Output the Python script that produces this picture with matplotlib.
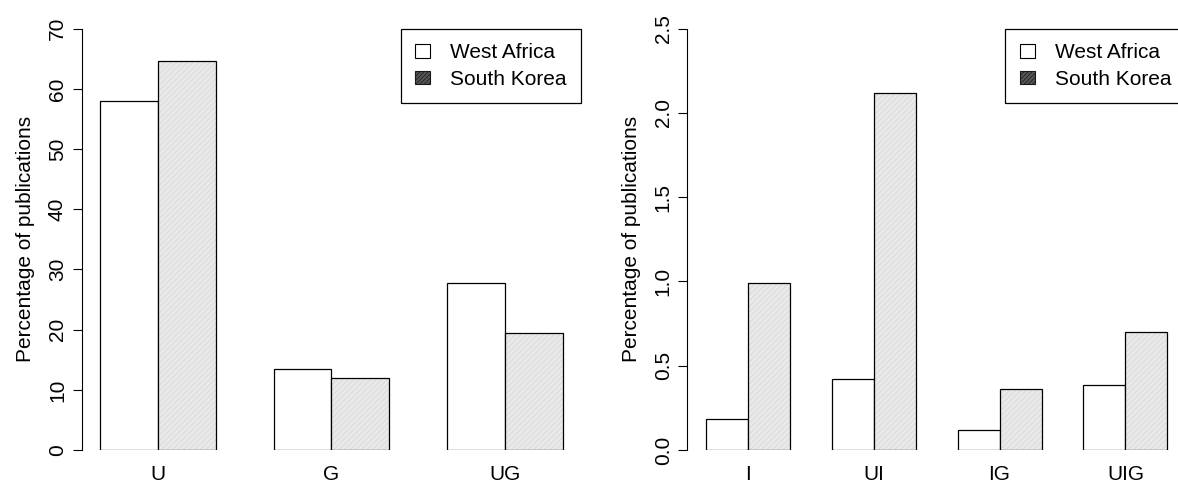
"""
Share of publications by collaboration type, West Africa vs South Korea (two barplot panels).
"""
import numpy as np
import matplotlib

matplotlib.use("Agg")
import matplotlib.pyplot as plt
from matplotlib.patches import Patch

plt.rcParams["font.family"] = ["Liberation Sans", "DejaVu Sans"]
plt.rcParams["font.size"] = 15
plt.rcParams["hatch.linewidth"] = 0.5

SERIES = ["West Africa", "South Korea"]

left_types = ["U", "G", "UG"]
left_west_africa = [58.0, 13.4, 27.7]
left_south_korea = [64.6, 11.9, 19.5]

right_types = ["I", "UI", "IG", "UIG"]
right_west_africa = [0.185, 0.42, 0.12, 0.385]
right_south_korea = [0.99, 2.12, 0.36, 0.70]

SK_FILL = "#e9e9e9"
SK_HATCH = "#d6d6d6"


def draw_panel(ax, types, wa, sk, ymax, yticks, ytick_fmt):
    n = len(types)
    # R barplot(beside=TRUE): one unit gap before each group, bars one unit wide
    starts = np.arange(n) * 3 + 1
    ax.bar(starts, wa, width=1, align="edge", facecolor="white",
           edgecolor="black", linewidth=0.9)
    ax.bar(starts + 1, sk, width=1, align="edge", facecolor=SK_FILL,
           edgecolor=SK_HATCH, hatch="//////", linewidth=0)
    ax.bar(starts + 1, sk, width=1, align="edge", facecolor="none",
           edgecolor="black", linewidth=0.9)

    lo, hi = starts[0], starts[-1] + 2
    pad = 0.04 * (hi - lo)
    ax.set_xlim(lo - pad, hi + pad)
    ax.set_ylim(0, ymax)

    ax.set_xticks(starts + 1)
    ax.set_xticklabels(types)
    ax.tick_params(axis="x", length=0, pad=11)

    ax.set_yticks(yticks)
    ax.set_yticklabels([ytick_fmt.format(v) for v in yticks])
    ax.tick_params(axis="y", length=6.5, width=0.8, pad=4, direction="out")
    for lab in ax.get_yticklabels():
        lab.set_rotation(90)
        lab.set_verticalalignment("center")

    for side in ("top", "right", "bottom"):
        ax.spines[side].set_visible(False)
    ax.spines["left"].set_bounds(yticks[0], yticks[-1])
    ax.spines["left"].set_linewidth(0.8)

    ax.set_ylabel("Percentage of publications", labelpad=9)

    handles = [
        Patch(facecolor="white", edgecolor="black", linewidth=0.8),
        Patch(facecolor="#555555", edgecolor="#1a1a1a", hatch="////////", linewidth=0.8),
    ]
    leg = ax.legend(handles, SERIES, loc="upper right", bbox_to_anchor=(1, 1),
                    borderaxespad=0, fancybox=False, framealpha=1,
                    edgecolor="black", handlelength=0.72, handleheight=0.6,
                    handletextpad=0.95, labelspacing=0.35, borderpad=0.7)
    leg.get_frame().set_linewidth(0.9)


fig = plt.figure(figsize=(11.78, 4.82), dpi=100)
ax1 = fig.add_axes([0.0692, 0.0664, 0.4242, 0.874])
ax2 = fig.add_axes([0.5834, 0.0664, 0.4233, 0.874])

draw_panel(ax1, left_types, left_west_africa, left_south_korea,
           70, list(range(0, 71, 10)), "{:d}")
draw_panel(ax2, right_types, right_west_africa, right_south_korea,
           2.5, [0.0, 0.5, 1.0, 1.5, 2.0, 2.5], "{:.1f}")

fig.savefig("out.png", dpi=100)
